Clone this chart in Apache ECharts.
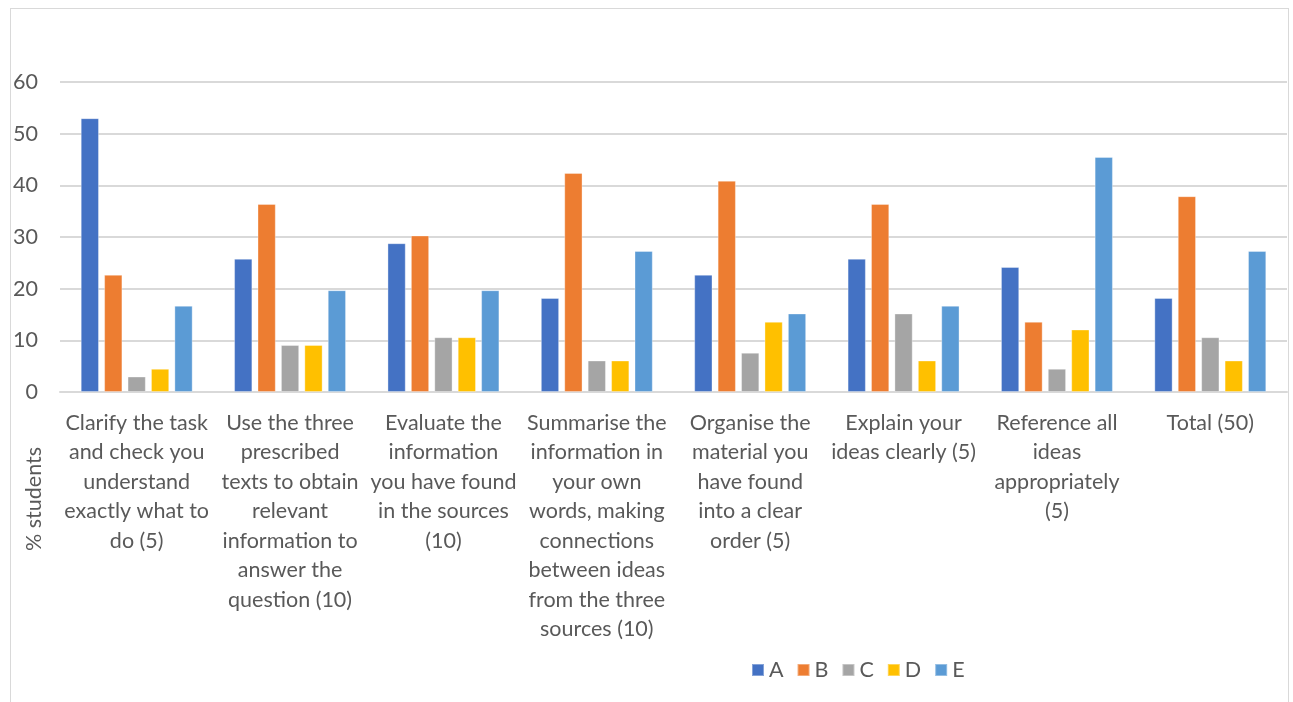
<!DOCTYPE html>
<html>
<head>
<meta charset="utf-8">
<script src="https://cdn.jsdelivr.net/npm/echarts@6/dist/echarts.min.js"></script>
<style>
  html, body { margin: 0; padding: 0; background: #fff; }
  #frame { position: absolute; left: 10px; top: 8px; width: 1279px; height: 700px; border: 1px solid #d9d9d9; box-sizing: border-box; }
  #chart { position: absolute; left: 0; top: 0; width: 1293px; height: 702px; }
</style>
</head>
<body>
<div id="frame"></div>
<div id="chart"></div>
<script>
// Assessment criteria (tick labels, wrapped as displayed)
const categories = [
  'Clarify the task\nand check you\nunderstand\nexactly what to\ndo (5)',
  'Use the three\nprescribed\ntexts to obtain\nrelevant\ninformation to\nanswer the\nquestion (10)',
  'Evaluate the\ninformation\nyou have found\nin the sources\n(10)',
  'Summarise the\ninformation in\nyour own\nwords, making\nconnections\nbetween ideas\nfrom the three\nsources (10)',
  'Organise the\nmaterial you\nhave found\ninto a clear\norder (5)',
  'Explain your\nideas clearly (5)',
  'Reference all\nideas\nappropriately\n(5)',
  'Total (50)'
];

// % of students per grade band
const gradeA = [53.0, 25.8, 28.8, 18.2, 22.7, 25.8, 24.2, 18.2];
const gradeB = [22.7, 36.4, 30.3, 42.4, 40.9, 36.4, 13.6, 37.9];
const gradeC = [3.0, 9.1, 10.6, 6.1, 7.6, 15.2, 4.5, 10.6];
const gradeD = [4.5, 9.1, 10.6, 6.1, 13.6, 6.1, 12.1, 6.1];
const gradeE = [16.7, 19.7, 19.7, 27.3, 15.2, 16.7, 45.5, 27.3];

const yTicks = { min: 0, max: 60, interval: 10 };

const FONT = 'Lato, "Open Sans", sans-serif';
const FS = 21.5;
const TEXT = '#595959';

const colors = ['#4472c4', '#ed7d31', '#a5a5a5', '#ffc000', '#5b9bd5'];
const names = ['A', 'B', 'C', 'D', 'E'];
const values = [gradeA, gradeB, gradeC, gradeD, gradeE];

const chart = echarts.init(document.getElementById('chart'), null, { renderer: 'canvas' });

chart.setOption({
  animation: false,
  color: colors,
  textStyle: { fontFamily: FONT },
  grid: { left: 60, right: 6, top: 82, bottom: 310, containLabel: false },
  legend: {
    left: 751,
    top: 659,
    padding: 0,
    icon: 'rect',
    itemWidth: 12,
    itemHeight: 12,
    itemGap: 13,
    textStyle: { fontFamily: FONT, fontSize: FS, color: TEXT },
    data: names
  },
  xAxis: {
    type: 'category',
    data: categories,
    axisLine: { show: true, lineStyle: { color: '#d9d9d9', width: 2 } },
    axisTick: { show: false },
    axisLabel: {
      interval: 0,
      margin: 16,
      fontFamily: FONT,
      fontSize: FS,
      lineHeight: 29.5,
      color: TEXT,
      align: 'center'
    }
  },
  yAxis: {
    type: 'value',
    min: yTicks.min,
    max: yTicks.max,
    interval: yTicks.interval,
    axisLine: { show: false },
    axisTick: { show: false },
    splitLine: { lineStyle: { color: '#d9d9d9', width: 2 } },
    axisLabel: { margin: 22, fontFamily: FONT, fontSize: FS, color: TEXT }
  },
  graphic: [{
    type: 'text',
    x: 34,
    y: 499,
    rotation: Math.PI / 2,
    style: {
      text: '% students',
      font: FS + 'px ' + FONT,
      fill: TEXT,
      textAlign: 'center',
      textVerticalAlign: 'middle'
    }
  }],
  series: values.map((v, i) => ({
    name: names[i],
    type: 'bar',
    data: v,
    barGap: '28%',
    barCategoryGap: '27%',
    itemStyle: { color: colors[i], borderColor: 'rgba(255,255,255,0.35)', borderWidth: 1 }
  }))
});
</script>
</body>
</html>
